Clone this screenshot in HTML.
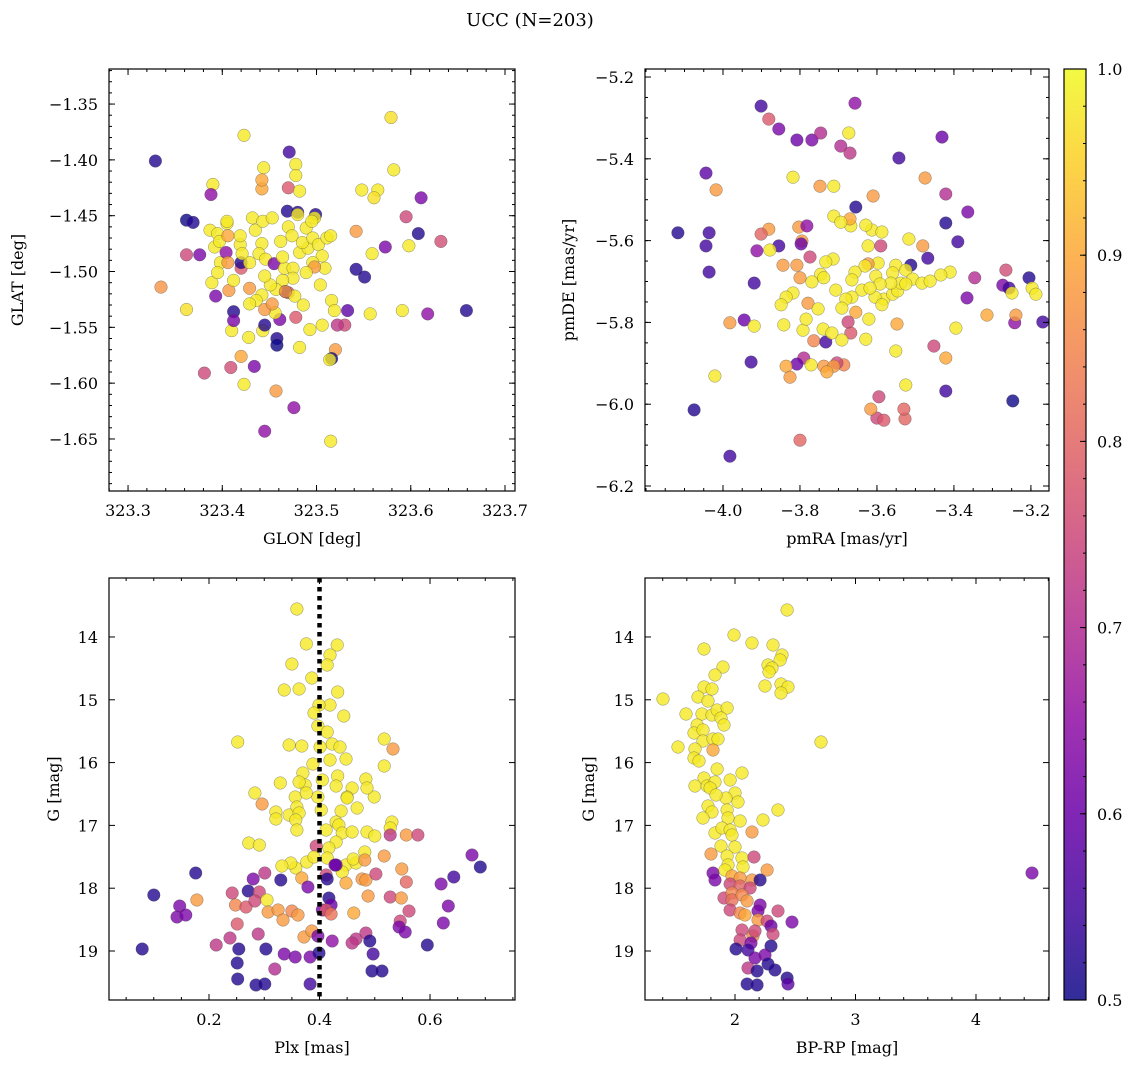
<!DOCTYPE html>
<html><head><meta charset="utf-8"><title>UCC (N=203)</title>
<style>
html,body{margin:0;padding:0;background:#fff;}
svg{display:block;font-family:"DejaVu Serif","Liberation Serif",serif;}
</style></head>
<body>
<svg id="fig" width="1136" height="1068" viewBox="0 0 1136 1068" xmlns="http://www.w3.org/2000/svg">
<defs>
<linearGradient id="plasmaGrad" x1="0" y1="1" x2="0" y2="0">
<stop offset="0" stop-color="#0d0887"/><stop offset="0.1" stop-color="#41049d"/><stop offset="0.2" stop-color="#6a00a8"/><stop offset="0.3" stop-color="#8f0da4"/><stop offset="0.4" stop-color="#b12a90"/><stop offset="0.5" stop-color="#cc4778"/><stop offset="0.6" stop-color="#e16462"/><stop offset="0.7" stop-color="#f2844b"/><stop offset="0.8" stop-color="#fca636"/><stop offset="0.9" stop-color="#fcce25"/><stop offset="1" stop-color="#f0f921"/>
</linearGradient>
</defs>
<text x="530" y="26" text-anchor="middle" font-size="18">UCC (N=203)</text>
</svg>
<script>
// ---------- Panel 1: GLON vs GLAT ----------
const p1X=[323.329,323.362,323.369,323.362,323.335,323.362,323.376,323.390,323.388,323.423,
323.471,323.478,323.579,323.582,323.444,323.442,323.442,323.470,323.478,323.482,
323.565,323.548,323.561,323.611,323.595,323.608,323.598,323.632,323.573,323.559,
323.659,323.618,323.591,323.557,323.542,323.551,323.542,323.533,323.530,323.522,
323.520,323.516,323.514,323.515,323.509,323.516,323.519,323.506,323.493,323.482,
323.461,323.478,323.470,323.456,323.443,323.445,323.458,323.458,323.428,323.410,
323.420,323.409,323.434,323.381,323.389,323.393,323.412,323.412,323.407,323.429,
323.420,323.420,323.398,323.404,323.406,323.395,323.412,323.419,323.419,323.435,
323.405,323.387,323.395,323.392,323.397,323.406,323.405,323.432,323.443,323.453,
323.469,323.480,323.480,323.499,323.498,323.489,323.495,323.470,323.474,323.462,
323.442,323.439,323.446,323.455,323.466,323.475,323.482,323.491,323.485,323.496,
323.502,323.506,323.496,323.498,323.489,323.475,323.464,323.467,323.457,323.451,
323.442,323.436,323.445,323.477,323.486,323.504,323.511,323.515,323.464,323.445,
323.429,323.421,323.453,323.429,323.457,323.445,323.476,323.423,323.467];
const p1Y=[-1.401,-1.454,-1.456,-1.485,-1.514,-1.534,-1.485,-1.422,-1.431,-1.378,
-1.393,-1.404,-1.362,-1.409,-1.407,-1.426,-1.418,-1.425,-1.414,-1.428,
-1.427,-1.427,-1.434,-1.434,-1.451,-1.466,-1.477,-1.473,-1.478,-1.484,
-1.535,-1.538,-1.535,-1.538,-1.464,-1.505,-1.498,-1.535,-1.548,-1.548,
-1.570,-1.578,-1.579,-1.652,-1.497,-1.526,-1.535,-1.548,-1.552,-1.568,
-1.543,-1.541,-1.519,-1.537,-1.553,-1.548,-1.560,-1.566,-1.559,-1.553,
-1.576,-1.586,-1.585,-1.591,-1.510,-1.522,-1.536,-1.544,-1.517,-1.515,
-1.497,-1.492,-1.492,-1.483,-1.492,-1.501,-1.508,-1.476,-1.468,-1.463,
-1.457,-1.463,-1.466,-1.478,-1.473,-1.468,-1.455,-1.452,-1.455,-1.452,
-1.446,-1.447,-1.449,-1.449,-1.452,-1.461,-1.455,-1.460,-1.468,-1.473,
-1.475,-1.484,-1.489,-1.493,-1.497,-1.497,-1.483,-1.479,-1.474,-1.470,
-1.476,-1.486,-1.492,-1.496,-1.501,-1.506,-1.508,-1.518,-1.516,-1.512,
-1.521,-1.526,-1.534,-1.522,-1.530,-1.512,-1.470,-1.468,-1.487,-1.504,
-1.492,-1.484,-1.529,-1.529,-1.607,-1.643,-1.622,-1.601,-1.518];
const p1P=[.52,.5,.52,.75,.87,.97,.62,.98,.65,.98,
.55,.98,.97,.98,.98,.9,.9,.78,.98,.98,
.98,.98,.97,.62,.75,.52,.98,.76,.62,.98,
.52,.65,.98,.98,.88,.52,.52,.58,.75,.72,
.88,.5,.98,.98,.98,.98,.98,.98,.98,.98,
.62,.78,.78,.98,.98,.52,.52,.5,.98,.98,
.9,.76,.62,.75,.98,.62,.52,.62,.88,.88,
.78,.52,.98,.65,.88,.98,.98,.98,.98,.98,
.98,.98,.98,.98,.98,.9,.98,.98,.98,.98,
.52,.52,.98,.52,.98,.98,.98,.98,.98,.98,
.98,.98,.98,.62,.98,.98,.98,.98,.98,.98,
.98,.98,.98,.88,.98,.98,.98,.52,.98,.98,
.98,.98,.88,.98,.98,.98,.98,.98,.98,.98,
.98,.98,.88,.98,.88,.65,.65,.98,.88];
const p1XTicks=[323.3,323.4,323.5,323.6,323.7];
const p1XLabels=["323.3","323.4","323.5","323.6","323.7"];
const p1YTicks=[-1.65,-1.6,-1.55,-1.5,-1.45,-1.4,-1.35];
const p1YLabels=["\u22121.65","\u22121.60","\u22121.55","\u22121.50","\u22121.45","\u22121.40","\u22121.35"];

// ---------- Panel 2: pmRA vs pmDE ----------
const p2X=[-3.657,-3.901,-3.881,-3.855,-3.808,-3.769,-3.746,-3.673,-3.694,-3.670,
-3.431,-4.044,-4.018,-3.818,-3.748,-3.543,-3.475,-3.421,-3.364,-3.421,
-3.481,-3.512,-3.468,-3.390,-3.346,-3.265,-3.273,-3.257,-3.249,-3.314,
-3.242,-3.366,-3.410,-3.434,-3.395,-3.421,-3.452,-3.421,-3.527,-3.530,
-3.525,-3.600,-3.595,-3.551,-3.548,-3.629,-3.686,-3.704,-3.616,-3.517,
-3.551,-3.597,-3.623,-3.603,-3.613,-3.590,-3.582,-3.610,-3.587,-3.668,
-3.623,-3.655,-3.712,-3.712,-3.670,-3.629,-3.694,-3.631,-3.657,-3.665,
-3.639,-3.665,-3.681,-3.707,-3.691,-3.655,-3.621,-3.605,-3.587,-3.559,
-3.546,-3.538,-3.559,-3.525,-3.507,-3.483,-3.462,-3.525,-3.564,-3.592,
-3.618,-3.746,-3.769,-3.714,-3.733,-3.738,-3.800,-3.844,-3.808,-3.774,
-3.795,-3.803,-3.782,-3.797,-3.855,-3.878,-3.881,-3.912,-3.901,-3.779,
-3.818,-3.836,-3.849,-3.842,-3.753,-3.792,-3.764,-3.733,-3.740,-3.784,
-3.717,-3.668,-3.790,-3.808,-3.836,-3.826,-3.771,-3.738,-3.712,-3.730,
-3.691,-3.675,-3.982,-3.919,-3.945,-3.919,-3.927,-4.036,-4.044,-4.036,
-4.117,-4.075,-4.021,-3.982,-3.800,-3.582,-3.169,-3.205,-3.197,-3.239,
-3.187,-3.247];
const p2Y=[-5.264,-5.271,-5.303,-5.327,-5.354,-5.354,-5.337,-5.337,-5.369,-5.386,
-5.347,-5.435,-5.476,-5.445,-5.467,-5.398,-5.447,-5.486,-5.530,-5.557,
-5.613,-5.660,-5.643,-5.603,-5.691,-5.672,-5.709,-5.716,-5.728,-5.782,
-5.801,-5.740,-5.677,-5.684,-5.814,-5.887,-5.858,-5.968,-6.036,-6.012,
-5.953,-6.034,-5.982,-5.870,-5.804,-5.841,-5.904,-5.899,-6.012,-5.596,
-5.660,-5.655,-5.657,-5.687,-5.574,-5.613,-5.743,-5.491,-5.579,-5.564,
-5.613,-5.518,-5.540,-5.467,-5.547,-5.562,-5.555,-5.662,-5.677,-5.696,
-5.721,-5.738,-5.743,-5.721,-5.765,-5.775,-5.792,-5.738,-5.757,-5.731,
-5.723,-5.704,-5.679,-5.672,-5.694,-5.704,-5.699,-5.706,-5.704,-5.706,
-5.716,-5.682,-5.701,-5.645,-5.652,-5.691,-5.691,-5.660,-5.660,-5.640,
-5.601,-5.567,-5.564,-5.608,-5.613,-5.623,-5.572,-5.625,-5.584,-5.753,
-5.728,-5.738,-5.757,-5.806,-5.767,-5.819,-5.845,-5.848,-5.816,-5.792,
-5.826,-5.826,-5.887,-5.902,-5.907,-5.934,-5.904,-5.907,-5.907,-5.921,
-5.843,-5.799,-5.801,-5.704,-5.794,-5.809,-5.897,-5.581,-5.613,-5.677,
-5.581,-6.014,-5.931,-6.127,-6.088,-6.039,-5.799,-5.691,-5.716,-5.782,
-5.731,-5.992];
const p2P=[.65,.55,.78,.62,.6,.62,.7,.98,.7,.72,
.6,.58,.88,.98,.88,.55,.88,.7,.62,.52,
.88,.52,.55,.55,.7,.76,.62,.55,.98,.9,
.65,.62,.98,.98,.98,.9,.75,.55,.8,.8,
.98,.75,.75,.98,.9,.98,.85,.75,.88,.98,
.98,.98,.88,.98,.98,.75,.98,.88,.98,.98,
.98,.52,.98,.98,.9,.98,.98,.98,.98,.98,
.98,.98,.98,.98,.98,.9,.98,.98,.98,.98,
.98,.98,.98,.98,.98,.98,.98,.98,.98,.98,
.98,.98,.98,.98,.98,.98,.88,.88,.88,.75,
.88,.88,.65,.6,.55,.98,.88,.65,.8,.88,
.98,.98,.98,.98,.98,.98,.85,.55,.98,.98,
.98,.78,.7,.6,.9,.88,.98,.88,.88,.9,
.98,.75,.88,.55,.6,.98,.55,.55,.55,.55,
.52,.52,.98,.55,.8,.78,.55,.52,.98,.88,
.98,.5];
const p2XTicks=[-4.0,-3.8,-3.6,-3.4,-3.2];
const p2XLabels=["\u22124.0","\u22123.8","\u22123.6","\u22123.4","\u22123.2"];
const p2YTicks=[-6.2,-6.0,-5.8,-5.6,-5.4,-5.2];
const p2YLabels=["\u22126.2","\u22126.0","\u22125.8","\u22125.6","\u22125.4","\u22125.2"];

// ---------- Panel 3: Plx vs G ----------
const p3X=[.359,.376,.432,.419,.414,.350,.386,.363,.336,.433,
.419,.399,.390,.444,.397,.414,.423,.368,.345,.401,
.437,.419,.448,.388,.370,.374,.405,.433,.459,.397,
.356,.252,.283,.517,.533,.517,.484,.499,.450,.329,
.363,.430,.486,.376,
.296,.321,.321,.345,.359,.363,.357,.359,.403,.439,
.450,.468,.430,.435,.412,.441,.459,.486,.500,.531,
.528,.557,.528,.578,.430,.417,.394,.414,.377,.390,
.357,.348,.332,.448,.466,.461,.482,.482,.517,.441,
.448,.430,.272,.291,
.176,.100,.147,.142,.158,.178,.079,.213,.238,.254,
.251,.252,.285,.301,.319,.336,.356,.383,.383,.303,
.289,.251,.242,.248,.267,.271,.280,.301,.291,.283,
.305,.307,.325,.334,.350,.361,.372,.386,.397,.330,
.368,.379,.412,.414,.417,.421,.405,.412,.421,.423,
.399,.428,.477,.484,.502,.488,.462,.549,.557,.528,
.548,.562,.546,.544,.555,.620,.643,.676,.691,.633,
.624,.595,.484,.466,.459,.491,.497,.495,.513];
const p3Y=[13.554,14.111,14.127,14.287,14.446,14.430,14.653,14.828,14.844,14.876,
15.083,15.083,15.210,15.258,15.417,15.513,15.704,15.736,15.720,15.752,
15.752,15.959,15.943,16.022,16.166,16.357,16.277,16.213,16.405,16.548,
16.548,15.672,16.484,15.624,15.784,16.054,16.261,16.548,16.548,16.325,
16.309,16.373,16.405,16.484,
16.659,16.787,16.898,16.834,16.707,16.803,16.914,17.073,16.755,16.771,
16.564,16.723,16.946,16.994,17.073,17.121,17.105,17.105,17.169,16.946,
17.041,17.153,17.153,17.153,17.264,17.360,17.328,17.519,17.583,17.503,
17.678,17.599,17.647,17.631,17.599,17.535,17.424,17.551,17.487,17.742,
17.917,17.631,17.280,17.312,
17.758,18.108,18.283,18.459,18.427,18.188,18.968,18.905,18.793,18.968,
19.191,19.446,19.541,19.526,19.287,19.048,19.096,19.096,19.526,18.968,
18.729,18.570,18.077,18.268,18.299,18.045,17.854,17.758,18.061,18.204,
18.188,18.379,18.347,18.507,18.363,18.427,18.777,18.682,18.761,17.869,
17.838,17.981,17.790,17.854,18.156,18.268,18.347,18.347,18.411,18.841,
19.032,17.631,17.854,17.869,17.774,18.124,18.395,17.694,17.901,18.140,
18.156,18.363,18.523,18.618,18.698,17.933,17.822,17.471,17.663,18.284,
18.554,18.905,18.713,18.809,18.873,18.841,19.048,19.319,19.319];
const p3P=[.98,.98,.98,.98,.98,.98,.98,.98,.98,.98,
.98,.98,.98,.98,.98,.98,.98,.98,.98,.98,
.98,.98,.98,.98,.98,.98,.98,.98,.98,.98,
.98,.98,.98,.98,.88,.98,.98,.98,.98,.98,
.98,.98,.98,.98,
.88,.98,.98,.98,.98,.98,.98,.98,.98,.98,
.98,.98,.98,.98,.98,.98,.98,.98,.98,.98,
.98,.88,.72,.75,.98,.98,.75,.98,.98,.98,
.98,.98,.98,.98,.98,.98,.98,.88,.88,.98,
.9,.6,.98,.98,
.52,.52,.62,.62,.62,.88,.52,.72,.72,.52,
.52,.52,.52,.52,.7,.62,.62,.62,.55,.52,
.72,.78,.75,.85,.78,.52,.62,.72,.75,.75,
.98,.88,.88,.88,.85,.88,.88,.88,.62,.52,
.9,.62,.75,.52,.52,.6,.62,.78,.82,.65,
.52,.6,.88,.88,.75,.88,.9,.88,.8,.75,
.88,.75,.75,.62,.62,.62,.55,.62,.52,.62,
.62,.52,.72,.72,.72,.52,.55,.52,.52];
const p3XTicks=[0.2,0.4,0.6];
const p3XLabels=["0.2","0.4","0.6"];
const p3YTicks=[14,15,16,17,18,19];
const p3YLabels=["14","15","16","17","18","19"];
const p3PlxLine=[0.4];

// ---------- Panel 4: BP-RP vs G ----------
const p4X=[2.432,1.992,2.141,2.315,2.390,2.374,2.274,2.307,2.282,1.743,
1.900,1.834,1.743,1.809,1.693,1.776,2.249,2.382,2.440,2.382,
1.402,1.593,1.726,1.809,1.851,1.934,1.685,1.884,1.909,1.660,
1.734,1.734,1.817,1.859,1.817,1.527,1.668,1.660,1.701,2.714,
1.851,2.058,1.959,1.743,1.668,1.768,1.834,1.793,2.000,2.025,
1.925,1.842,1.776,1.809,1.734,1.934,1.942,2.042,1.834,1.892,
1.959,1.975,2.357,2.232,2.141,1.884,2.000,1.801,1.934,1.942,
2.058,2.066,2.158,2.266,1.817,1.834,1.917,1.975,2.042,2.141,
2.208,1.959,2.042,2.125,1.909,1.975,1.975,2.058,2.100,2.208,
2.191,1.959,2.042,2.083,2.357,2.473,2.191,2.266,2.299,2.058,
2.149,2.166,2.315,2.042,2.133,2.008,2.108,2.299,2.166,2.249,
2.274,2.332,2.108,2.183,2.432,2.440,2.100,2.183,4.465];
const p4Y=[13.570,13.968,14.096,14.127,14.287,14.366,14.446,14.494,14.557,14.191,
14.478,14.605,14.796,14.828,14.955,15.019,14.780,14.748,14.796,14.892,
14.987,15.226,15.226,15.242,15.162,15.131,15.401,15.290,15.401,15.529,
15.481,15.656,15.624,15.624,15.799,15.752,15.783,15.927,15.975,15.672,
16.102,16.166,16.277,16.245,16.373,16.373,16.309,16.405,16.484,16.627,
16.564,16.516,16.691,16.787,16.882,16.755,16.882,16.930,17.121,17.041,
17.073,17.153,16.755,16.914,17.105,17.328,17.344,17.455,17.487,17.631,
17.519,17.663,17.503,17.710,17.758,17.869,17.710,17.806,17.838,17.869,
17.869,17.933,17.965,17.997,18.156,18.077,18.188,18.108,18.204,18.268,
18.363,18.347,18.395,18.427,18.363,18.539,18.507,18.523,18.602,18.666,
18.761,18.682,18.730,18.825,18.873,18.968,18.984,18.920,19.112,19.064,
19.207,19.303,19.271,19.319,19.430,19.526,19.526,19.541,17.758];
const p4P=[.98,.98,.98,.98,.98,.98,.98,.98,.98,.98,
.98,.98,.98,.98,.98,.98,.98,.98,.98,.98,
.98,.98,.98,.98,.98,.98,.98,.98,.98,.98,
.98,.98,.98,.98,.9,.98,.98,.98,.98,.98,
.98,.98,.98,.98,.98,.98,.98,.98,.98,.98,
.98,.98,.98,.98,.98,.98,.98,.98,.98,.98,
.98,.98,.98,.98,.88,.98,.98,.88,.98,.98,
.98,.98,.75,.88,.62,.62,.98,.9,.88,.88,
.52,.75,.8,.75,.75,.85,.82,.85,.88,.62,
.62,.75,.85,.9,.75,.62,.88,.75,.6,.75,
.85,.75,.75,.75,.62,.52,.55,.52,.62,.62,
.52,.52,.72,.52,.52,.58,.52,.52,.62];
const p4XTicks=[2,3,4];
const p4XLabels=["2","3","4"];
const p4YTicks=[14,15,16,17,18,19];
const p4YLabels=["14","15","16","17","18","19"];

// ---------- Colorbar ----------
const cbTicks=[0.5,0.6,0.7,0.8,0.9,1.0];
const cbLabels=["0.5","0.6","0.7","0.8","0.9","1.0"];
const cbRange=[0.5,1.0];

const NS="http://www.w3.org/2000/svg";
const svg=document.getElementById('fig');
function mk(tag,attrs,parent){const e=document.createElementNS(NS,tag);for(const k in attrs)e.setAttribute(k,attrs[k]);(parent||svg).appendChild(e);return e;}

const plasmaStops=["#0d0887","#41049d","#6a00a8","#8f0da4","#b12a90","#cc4778","#e16462","#f2844b","#fca636","#fcce25","#f0f921"];
function hex(h){return [parseInt(h.substr(1,2),16),parseInt(h.substr(3,2),16),parseInt(h.substr(5,2),16)];}
function plasma(v){
  let t=(v-cbRange[0])/(cbRange[1]-cbRange[0]);t=Math.max(0,Math.min(1,t));
  const f=t*10,i=Math.min(9,Math.floor(f)),r=f-i;
  const a=hex(plasmaStops[i]),b=hex(plasmaStops[i+1]);
  return 'rgb('+a.map((c,k)=>Math.round(c+(b[k]-c)*r)).join(',')+')';
}
const TICKFONT=16;

function makePanel(o){
  const g=mk('g',{});
  
  
  const sx=v=>o.L+(v-o.xd[0])/(o.xd[1]-o.xd[0])*(o.R-o.L);
  const sy=v=>o.B-(v-o.yd[0])/(o.yd[1]-o.yd[0])*(o.B-o.T);
  const pts=mk('g',{},g);
  
  
  for(let i=0;i<o.xs.length;i++){
    const c=mk('circle',{cx:sx(o.xs[i]).toFixed(1),cy:sy(o.ys[i]).toFixed(1),r:6.3,fill:plasma(o.ps[i]),'fill-opacity':0.8,stroke:'#444','stroke-width':0.5,'stroke-opacity':0.6},pts);
    
    
  }
  if(o.vline){
    for(const v of o.vline){
      const l=mk('line',{x1:sx(v),x2:sx(v),y1:o.T,y2:o.B,stroke:'#000','stroke-width':4.5,'stroke-dasharray':'4.5,4.5'},g);
      
      
    }
  }
  const ax=mk('g',{stroke:'#000','stroke-width':1},g);
  
  
  const mnx=o.xMinor, mny=o.yMinor;
  for(let v=Math.ceil(o.xd[0]/mnx)*mnx; v<=o.xd[1]; v+=mnx){
    const x=sx(v);mk('line',{x1:x,x2:x,y1:o.B,y2:o.B-3},ax);mk('line',{x1:x,x2:x,y1:o.T,y2:o.T+3},ax);
  }
  for(let v=Math.ceil(o.yd[0]/mny)*mny; v<=o.yd[1]; v+=mny){
    const y=sy(v);mk('line',{x1:o.L,x2:o.L+3,y1:y,y2:y},ax);mk('line',{x1:o.R,x2:o.R-3,y1:y,y2:y},ax);
  }
  o.xt.forEach((v,i)=>{
    const x=sx(v);mk('line',{x1:x,x2:x,y1:o.B,y2:o.B-6},ax);mk('line',{x1:x,x2:x,y1:o.T,y2:o.T+6},ax);
    const t=mk('text',{x:x,y:o.B+25,'text-anchor':'middle','font-size':TICKFONT},g);t.textContent=o.xl[i];
    
    
  });
  o.yt.forEach((v,i)=>{
    const y=sy(v);mk('line',{x1:o.L,x2:o.L+6,y1:y,y2:y},ax);mk('line',{x1:o.R,x2:o.R-6,y1:y,y2:y},ax);
    const t=mk('text',{x:o.L-11,y:y+6,'text-anchor':'end','font-size':TICKFONT},g);t.textContent=o.yl[i];
    
    
  });
  mk('rect',{x:o.L,y:o.T,width:o.R-o.L,height:o.B-o.T,fill:'none',stroke:'#000','stroke-width':1.2},ax);
  const xt=mk('text',{x:(o.L+o.R)/2,y:o.B+53,'text-anchor':'middle','font-size':16},g);xt.textContent=o.xTitle;
  
  
  const yx=o.yTitleX, yc=(o.T+o.B)/2;
  const yt=mk('text',{x:yx,y:yc,'text-anchor':'middle','font-size':16,transform:'rotate(-90 '+yx+' '+yc+')'},g);yt.textContent=o.yTitle;
  
  
}

makePanel({name:'glon-glat-panel',L:109,R:515,T:69,B:491,xd:[323.2798,323.7106],yd:[-1.6966,-1.3186],
  xs:p1X,ys:p1Y,ps:p1P,xt:p1XTicks,xl:p1XLabels,yt:p1YTicks,yl:p1YLabels,xMinor:0.02,yMinor:0.01,
  xTitle:'GLON [deg]',yTitle:'GLAT [deg]',yTitleX:23});
makePanel({name:'proper-motion-panel',L:645,R:1049,T:69,B:491,xd:[-4.2026,-3.153],yd:[-6.2122,-5.1804],
  xs:p2X,ys:p2Y,ps:p2P,xt:p2XTicks,xl:p2XLabels,yt:p2YTicks,yl:p2YLabels,xMinor:0.05,yMinor:0.05,
  xTitle:'pmRA [mas/yr]',yTitle:'pmDE [mas/yr]',yTitleX:574});
makePanel({name:'parallax-magnitude-panel',L:109,R:515,T:578,B:1000,xd:[0.019,0.7538],yd:[19.78,13.061],
  xs:p3X,ys:p3Y,ps:p3P,xt:p3XTicks,xl:p3XLabels,yt:p3YTicks,yl:p3YLabels,xMinor:0.05,yMinor:-0.2,
  xTitle:'Plx [mas]',yTitle:'G [mag]',yTitleX:59,vline:p3PlxLine});
makePanel({name:'color-magnitude-panel',L:645,R:1049,T:578,B:1000,xd:[1.253,4.606],yd:[19.78,13.061],
  xs:p4X,ys:p4Y,ps:p4P,xt:p4XTicks,xl:p4XLabels,yt:p4YTicks,yl:p4YLabels,xMinor:0.2,yMinor:-0.2,
  xTitle:'BP-RP [mag]',yTitle:'G [mag]',yTitleX:594});

(function(){
  const L=1064,R=1086,T=69,B=1000;
  const g=mk('g',{});
  
  
  mk('rect',{x:L,y:T,width:R-L,height:B-T,fill:'url(#plasmaGrad)','fill-opacity':0.85},g);
  const cy=v=>B-(v-cbRange[0])/(cbRange[1]-cbRange[0])*(B-T);
  for(let v=cbRange[0];v<=cbRange[1]+1e-9;v+=0.02){mk('line',{x1:R,x2:R-3,y1:cy(v),y2:cy(v),stroke:'#000','stroke-width':1},g);}
  cbTicks.forEach((v,i)=>{
    mk('line',{x1:R,x2:R-6,y1:cy(v),y2:cy(v),stroke:'#000','stroke-width':1},g);
    const t=mk('text',{x:R+11,y:cy(v)+6,'font-size':TICKFONT},g);t.textContent=cbLabels[i];
    
    
  });
  mk('rect',{x:L,y:T,width:R-L,height:B-T,fill:'none',stroke:'#000','stroke-width':1.2},g);
})();
</script>
</body></html>
